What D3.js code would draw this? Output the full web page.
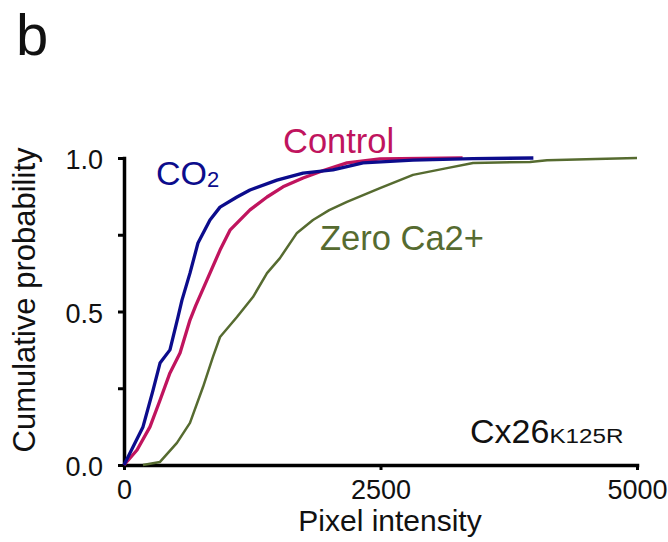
<!DOCTYPE html>
<html><head><meta charset="utf-8">
<script src="https://cdn.jsdelivr.net/npm/d3@7"></script>
<style>body{margin:0;background:#fff}svg{display:block;font-family:"Liberation Sans",Arial,sans-serif}</style>
</head><body><svg id="c" width="668" height="542"></svg>
<script>
const xTicks = [0, 2500, 5000];
const yTicks = [0, 0.25, 0.5, 0.75, 1.0];
const yTickLabels = {0: "0.0", 0.5: "0.5", 1: "1.0"};

const co2X = [0, 90, 185, 280, 351, 448, 526, 565, 643, 721, 838, 936, 1101, 1228, 1491, 1745, 2037, 2330, 2817, 3400, 3990];
const co2Y = [0, 0.06, 0.124, 0.24, 0.332, 0.375, 0.482, 0.537, 0.625, 0.723, 0.798, 0.84, 0.873, 0.896, 0.928, 0.951, 0.961, 0.984, 0.993, 0.998, 1.0];

const ctrlX = [0, 127, 253, 350, 448, 546, 643, 700, 809, 936, 1033, 1228, 1394, 1550, 1745, 1950, 2173, 2495, 2900, 3300];
const ctrlY = [0, 0.049, 0.124, 0.21, 0.30, 0.365, 0.472, 0.52, 0.603, 0.70, 0.765, 0.831, 0.873, 0.906, 0.935, 0.96, 0.984, 0.997, 0.999, 1.0];

const zeroX = [185, 351, 516, 643, 770, 867, 936, 1101, 1257, 1394, 1520, 1686, 1842, 2000, 2173, 2495, 2817, 3148, 3402, 3957, 4123, 4600, 5000];
const zeroY = [0, 0.01, 0.072, 0.137, 0.254, 0.352, 0.417, 0.482, 0.547, 0.625, 0.674, 0.756, 0.798, 0.83, 0.857, 0.902, 0.945, 0.967, 0.984, 0.987, 0.993, 0.997, 1.0];

const FONT = "Liberation Sans, Arial, sans-serif";
const svg = d3.select("#c");
const x = d3.scaleLinear().domain([0, 5000]).range([124, 637]);
const y = d3.scaleLinear().domain([0, 1]).range([465, 158]);

// axes
const xAxis = svg.append("g").attr("transform", "translate(0,465)")
  .call(d3.axisBottom(x).tickValues(xTicks).tickSize(5).tickSizeOuter(0).tickPadding(10).tickFormat(d3.format("d")));
const yAxis = svg.append("g").attr("transform", "translate(124,0)")
  .call(d3.axisLeft(y).tickValues(yTicks).tickSize(6).tickSizeOuter(0).tickPadding(15).tickFormat(d => yTickLabels[d] || ""));
[xAxis, yAxis].forEach(g => {
  g.select(".domain").attr("stroke", "#000").attr("stroke-width", 3.5).attr("stroke-linecap", "square");
  g.selectAll(".tick line").attr("stroke", "#000").attr("stroke-width", 3);
  g.selectAll(".tick text").attr("fill", "#111").style("font-family", FONT);
});
xAxis.selectAll(".tick text").style("font-size", "27px");
yAxis.selectAll(".tick text").style("font-size", "27px").attr("dy", "0.4em");

const line = d3.line().x(d => x(d[0])).y(d => y(d[1]));
function draw(xs, ys, color, w) {
  svg.append("path").datum(xs.map((v, i) => [v, ys[i]]))
    .attr("d", line).attr("fill", "none").attr("stroke", color)
    .attr("stroke-width", w).attr("stroke-linejoin", "round");
}
draw(zeroX, zeroY, "#566b30", 2.5);
draw(ctrlX, ctrlY, "#c0145e", 3.3);
draw(co2X, co2Y, "#0c0c8c", 3.3);

// labels
svg.append("text").attr("x", 16).attr("y", 55).style("font-size", "58px").attr("fill", "#111").text("b");
const co2 = svg.append("text").attr("x", 156).attr("y", 185).style("font-size", "34px").attr("fill", "#0c0c8c");
co2.append("tspan").text("CO");
co2.append("tspan").attr("dy", 2).style("font-size", "22px").text("2");
svg.append("text").attr("x", 283).attr("y", 153).style("font-size", "34.5px").attr("fill", "#c0145e").text("Control");
svg.append("text").attr("x", 320).attr("y", 250).style("font-size", "34.5px").attr("fill", "#566b30").text("Zero Ca2+");
const cx = svg.append("text").attr("x", 470).attr("y", 443).style("font-size", "34px").attr("fill", "#111");
cx.append("tspan").text("Cx26");
cx.append("tspan").style("font-size", "20px").attr("textLength", 74).attr("lengthAdjust", "spacingAndGlyphs").text("K125R");
svg.append("text").attr("x", 390).attr("y", 531).attr("text-anchor", "middle").style("font-size", "30px").attr("fill", "#111").text("Pixel intensity");
svg.append("text").attr("transform", "translate(35,300) rotate(-90)").attr("text-anchor", "middle").style("font-size", "31px").attr("fill", "#111").text("Cumulative probability");
</script></body></html>
